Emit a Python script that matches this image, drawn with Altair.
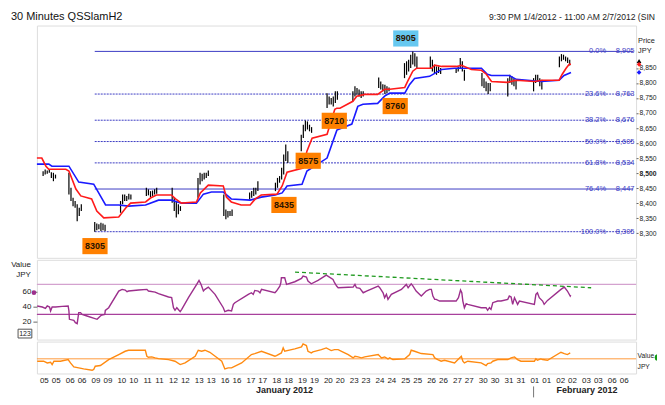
import altair as alt
import pandas as pd

FONT = "Liberation Sans"

# ---------------- x axis (trading days) ----------------
DAY_LABELS = ['05', '06', '09', '10', '11', '12', '13', '16', '17', '18', '19', '20',
              '23', '24', '25', '26', '27', '30', '31', '01', '02', '03', '06']
LABEL_OFFSETS = [0.0, 0.46]          # two session labels per day (day units)
MONTHS = ["January 2012", "February 2012"]
MONTH_POS = [9.32, 21.04]
MONTH_BREAK = [18.97]
X_DOMAIN = [-0.27, 22.94]

# ---------------- price bars (30 min), per trading day ----------------
BAR_START = -0.03
BAR_STEP = 0.08
BAR_HIGH = [
    [8506, 8512, 8509, 8512, 8503, 8501, 8495],
    [8501, 8451, 8418, 8407, 8396, 8385, 8396],
    [8337, 8332, 8330, 8335, 8332, 8328],
    [8407, 8429, 8429, 8424, 8431, 8429],
    [8451, 8446, 8440, 8442, 8446, 8451],
    [8451, 8418, 8407, 8396, 8390],
    [8484, 8501, 8498, 8501, 8501, 8509],
    [8429, 8379, 8374, 8374, 8379],
    [8435, 8440, 8451, 8451, 8473],
    [8468, 8484, 8490, 8518, 8562, 8595, 8573],
    [8628, 8661, 8675, 8672, 8661, 8653],
    [8766, 8755, 8750, 8755, 8772, 8772],
    [8772, 8789, 8783, 8778, 8772, 8772],
    [8818, 8805, 8796, 8794, 8789, 8785],
    [8866, 8872, 8877, 8894, 8905, 8899, 8888],
    [8888, 8877, 8861, 8855, 8855, 8850],
    [8850, 8855, 8883, 8872, 8844],
    [8833, 8816, 8805, 8800, 8800],
    [8816, 8827, 8822, 8816, 8811],
    [8816, 8827, 8827, 8816, 8811],
    [8888, 8896, 8894, 8888, 8885, 8877],
]
BAR_LOW = [
    [8490, 8495, 8498, 8501, 8484, 8473, 8482],
    [8429, 8407, 8390, 8385, 8340, 8357, 8374],
    [8305, 8310, 8313, 8307, 8310, 8307],
    [8368, 8396, 8407, 8407, 8412, 8412],
    [8424, 8426, 8420, 8424, 8429, 8431],
    [8401, 8374, 8352, 8363, 8374],
    [8418, 8462, 8473, 8479, 8484, 8490],
    [8357, 8346, 8352, 8357, 8357],
    [8412, 8418, 8424, 8429, 8440],
    [8440, 8451, 8468, 8479, 8495, 8540, 8534],
    [8573, 8617, 8639, 8645, 8639, 8634],
    [8717, 8728, 8728, 8722, 8733, 8744],
    [8739, 8755, 8761, 8755, 8750, 8755],
    [8783, 8778, 8772, 8763, 8766, 8772],
    [8816, 8827, 8838, 8850, 8861, 8855, 8850],
    [8850, 8838, 8833, 8827, 8833, 8830],
    [8833, 8838, 8850, 8838, 8807],
    [8789, 8783, 8772, 8763, 8772],
    [8755, 8800, 8794, 8789, 8778],
    [8772, 8800, 8805, 8789, 8778],
    [8852, 8872, 8877, 8872, 8866, 8858],
]

# ---------------- indicator lines on price ----------------
RED = [(-0.27, 8550), (-0.08, 8550), (0.08, 8523), (0.19, 8513), (0.85, 8513), (0.97, 8507),
       (1.24, 8447), (1.43, 8424), (1.85, 8414), (2.05, 8374), (2.32, 8351), (2.90, 8354),
       (3.17, 8384), (3.36, 8400), (3.94, 8404), (4.13, 8417), (4.36, 8427), (4.94, 8427),
       (5.10, 8414), (5.33, 8400), (5.91, 8404), (6.06, 8434), (6.37, 8460), (6.95, 8457),
       (7.07, 8420), (7.26, 8404), (7.64, 8394), (7.99, 8394), (8.19, 8414), (8.42, 8427),
       (9.03, 8430), (9.23, 8457), (9.42, 8503), (10.04, 8517), (10.19, 8573), (10.39, 8616),
       (10.97, 8629), (11.27, 8712), (11.35, 8716), (11.47, 8716), (11.97, 8739), (12.12, 8756),
       (12.43, 8762), (12.93, 8762), (13.20, 8779), (13.40, 8779), (13.98, 8785), (14.09, 8805),
       (14.29, 8839), (14.44, 8849), (15.02, 8849), (15.14, 8859), (15.41, 8855), (15.98, 8855),
       (16.18, 8859), (16.56, 8845), (16.95, 8842), (17.14, 8829), (17.34, 8805), (17.95, 8802),
       (18.30, 8809), (19.00, 8805), (19.31, 8809), (19.96, 8809), (20.08, 8829), (20.23, 8849),
       (20.35, 8862), (20.42, 8862)]
BLUE = [(-0.27, 8530), (0.19, 8530), (0.31, 8523), (0.97, 8523), (1.35, 8470), (1.93, 8463),
        (2.39, 8394), (2.90, 8394), (3.28, 8390), (3.94, 8394), (4.44, 8410), (4.94, 8410),
        (5.33, 8400), (5.91, 8400), (6.18, 8430), (6.49, 8437), (6.95, 8437), (7.26, 8414),
        (7.99, 8410), (8.42, 8420), (8.96, 8427), (9.23, 8434), (9.42, 8457), (10.00, 8463),
        (10.19, 8507), (10.97, 8550), (11.35, 8643), (11.93, 8663), (12.16, 8722), (12.36, 8729),
        (12.93, 8732), (13.20, 8756), (13.40, 8766), (13.98, 8766), (14.17, 8795), (14.36, 8815),
        (14.94, 8822), (15.14, 8832), (15.41, 8845), (15.91, 8849), (16.18, 8849), (16.95, 8849),
        (17.18, 8829), (17.34, 8825), (18.03, 8825), (18.30, 8812), (19.27, 8805), (19.96, 8809),
        (20.15, 8825), (20.42, 8835)]

# ---------------- Fibonacci retracement ----------------
FIB_PCT = ["0.0%", "23.6%", "38.2%", "50.0%", "61.8%", "76.4%", "100.0%"]
FIB_LEVEL = [8905, 8763, 8676, 8605, 8534, 8447, 8305]
FIB_SOLID = [1, 0, 0, 0, 0, 1, 0]
FIB_FROM, FIB_TO = 1.97, 22.83
FIB_PCT_AT, FIB_VAL_AT = 21.78, 22.88

# ---------------- swing labels ----------------
LABEL_TEXT = ["8305", "8435", "8575", "8710", "8760", "8905"]
LABEL_X = [1.98, 9.30, 10.24, 11.25, 13.61, 14.02]
LABEL_Y = [8257, 8394, 8541, 8674, 8723, 8948]
LABEL_FILL = ["#ff8000", "#ff8000", "#ff8000", "#ff8000", "#ff8000", "#66c8f0"]

LAST_VALUE = [8873, 8862, 8835]
LAST_COLOR = ["#000000", "#ff1a1a", "#1a1aff"]
LAST_SHAPE = ["triangle-up", "diamond", "diamond"]

# ---------------- RSI ----------------
RSI = [(-0.26, 41.2), (-0.06, 39.8), (0.06, 38.0), (0.13, 41.2), (0.22, 39.8), (0.26, 34.5),
       (0.32, 39.8), (0.45, 39.8), (0.71, 40.7), (0.94, 41.2), (0.97, 34.5), (0.99, 23.4),
       (1.16, 22.0), (1.22, 18.9), (1.29, 17.6), (1.35, 32.3), (1.42, 32.3), (1.48, 30.0),
       (1.67, 27.8), (2.06, 23.4), (2.12, 25.6), (2.19, 27.8), (2.25, 29.2), (2.36, 30.0),
       (2.38, 35.4), (2.51, 38.9), (2.90, 61.2), (3.03, 63.4), (3.15, 62.5), (3.22, 60.3),
       (3.28, 61.2), (3.67, 62.5), (3.99, 63.4), (4.05, 61.2), (4.31, 59.8), (4.44, 57.6),
       (4.83, 53.2), (4.95, 52.3), (5.02, 38.9), (5.08, 35.4), (5.15, 38.9), (5.28, 33.6),
       (5.34, 36.7), (5.60, 52.3), (5.92, 70.0), (6.01, 75.4), (6.09, 70.0), (6.18, 61.2),
       (6.24, 63.4), (6.37, 66.5), (6.63, 56.7), (6.95, 38.9), (7.01, 33.6), (7.14, 35.4),
       (7.27, 34.5), (7.34, 43.4), (7.40, 45.6), (7.92, 56.7), (8.04, 58.9), (8.11, 56.7),
       (8.17, 62.0), (8.30, 61.2), (8.37, 58.9), (8.43, 63.4), (8.95, 58.9), (9.01, 61.2),
       (9.14, 67.8), (9.18, 72.3), (9.20, 78.9), (9.33, 78.9), (9.40, 70.0), (9.72, 73.6),
       (9.98, 78.0), (10.04, 81.2), (10.17, 79.8), (10.23, 74.5), (10.36, 70.9), (10.62, 75.4),
       (10.94, 82.5), (11.00, 81.2), (11.20, 76.7), (11.26, 72.3), (11.34, 67.8), (11.40, 65.6),
       (11.98, 66.5), (12.05, 70.0), (12.11, 65.6), (12.24, 64.7), (12.37, 58.9), (12.50, 61.2),
       (12.95, 67.8), (13.01, 65.6), (13.14, 58.9), (13.20, 52.3), (13.27, 56.7), (13.33, 50.0),
       (13.46, 56.7), (13.85, 63.4), (14.04, 70.0), (14.11, 65.6), (14.23, 70.9), (14.30, 67.8),
       (14.42, 61.2), (14.62, 54.5), (14.81, 61.2), (14.94, 63.4), (15.01, 63.4), (15.07, 54.5),
       (15.14, 50.0), (15.20, 50.0), (15.33, 47.8), (15.97, 47.8), (16.06, 52.3), (16.14, 62.5),
       (16.19, 58.9), (16.23, 47.8), (16.29, 38.9), (16.36, 44.3), (16.42, 43.4), (16.94, 38.9),
       (17.13, 38.9), (17.19, 35.4), (17.26, 38.9), (17.32, 36.7), (17.39, 45.6), (17.58, 47.8),
       (17.71, 47.8), (17.97, 50.0), (18.03, 54.5), (18.10, 53.2), (18.16, 43.4), (18.23, 52.3),
       (18.29, 47.8), (18.35, 43.4), (18.42, 47.8), (19.00, 43.4), (19.06, 56.7), (19.12, 58.9),
       (19.19, 52.3), (19.32, 47.8), (19.38, 43.4), (19.51, 48.7), (20.03, 63.4), (20.16, 66.5),
       (20.28, 61.2), (20.39, 54.5), (20.41, 55.8)]
RSI_LEVELS = [70, 30]
RSI_LEVEL_COLOR = ["#d4a2cf", "#a8409c"]
TREND = [(9.73, 86.5), (21.2, 65.6)]
RSI_LAST = [59]

# ---------------- lower oscillator ----------------
OSC = [(-0.26, -4.9), (-0.01, -4.9), (0.13, -8.3), (0.26, -6.9), (0.32, -11.7), (0.39, -4.9),
       (0.64, -4.9), (0.94, -1.5), (1.03, -8.3), (1.16, -16.4), (1.35, -18.4), (1.54, -20.5),
       (1.87, -23.2), (1.93, -21.8), (1.99, -15.0), (2.19, -13.7), (2.51, -1.5), (2.90, 8.7),
       (3.15, 15.4), (3.28, 17.5), (3.93, 17.5), (3.99, 5.3), (4.05, 3.2), (4.18, 3.9),
       (4.31, 1.9), (4.44, 0.5), (4.83, -1.5), (5.08, -4.9), (5.28, -11.7), (5.47, -8.3),
       (5.86, 5.3), (5.98, 17.5), (6.11, 15.4), (6.24, 17.5), (6.43, 13.4), (6.89, -4.9),
       (7.01, -20.5), (7.14, -18.4), (7.27, -18.4), (7.66, -8.3), (8.04, 8.7), (8.17, 10.7),
       (8.43, 15.4), (8.95, 5.3), (9.01, 6.6), (9.20, 12.0), (9.27, 22.2), (9.33, 15.4),
       (9.72, 20.2), (9.98, 24.2), (10.04, 30.3), (10.17, 26.9), (10.23, 15.4), (10.36, 12.0),
       (10.42, 14.1), (10.75, 18.8), (10.94, 22.2), (11.13, 16.8), (11.26, 18.8), (11.40, 18.8),
       (11.53, 15.4), (11.79, 8.7), (11.98, 1.9), (12.05, 5.3), (12.17, 3.9), (12.30, 1.9),
       (12.43, 3.9), (12.95, 8.7), (13.08, 1.9), (13.20, 3.9), (13.33, -0.1), (13.40, 1.9),
       (13.52, -1.5), (13.98, -0.1), (14.17, 8.7), (14.23, 17.5), (14.36, 15.4), (14.62, 10.7),
       (15.07, 8.7), (15.14, 1.9), (15.26, -1.5), (15.39, -4.9), (15.52, -2.9), (15.91, -8.3),
       (16.10, 1.9), (16.17, 5.3), (16.23, -4.9), (16.29, -8.3), (16.42, -4.9), (16.94, -8.3),
       (17.13, -13.7), (17.19, -9.6), (17.32, -8.3), (17.39, -4.9), (17.58, -1.5), (17.97, -1.5),
       (18.10, 1.9), (18.23, 3.9), (18.35, -1.5), (18.48, -4.9), (19.00, -4.9), (19.06, -0.1),
       (19.12, -2.9), (19.25, -0.1), (19.32, -1.5), (19.51, -2.9), (20.03, 13.4), (20.16, 10.7),
       (20.28, 8.7), (20.39, 12.0)]
OSC_LEVEL = [0]

# ================= build tables =================
bars = []
for d, (hs, ls) in enumerate(zip(BAR_HIGH, BAR_LOW)):
    for k, (h, l) in enumerate(zip(hs, ls)):
        bars.append({"x": d + BAR_START + k * BAR_STEP, "hi": h, "lo": l})
bars_df = pd.DataFrame(bars)
red_df = pd.DataFrame(RED, columns=["x", "v"])
blue_df = pd.DataFrame(BLUE, columns=["x", "v"])
fib_df = pd.DataFrame({"pct": FIB_PCT, "level": FIB_LEVEL, "solid": FIB_SOLID,
                       "val": [f"{v:,}" for v in FIB_LEVEL]})
fib_df["x1"] = FIB_FROM
fib_df["x2"] = FIB_TO
fib_df["xp"] = FIB_PCT_AT
fib_df["xv"] = FIB_VAL_AT
lab_df = pd.DataFrame({"t": LABEL_TEXT, "x": LABEL_X, "v": LABEL_Y, "fill": LABEL_FILL})
last_df = pd.DataFrame({"v": LAST_VALUE, "c": LAST_COLOR, "s": LAST_SHAPE})
rsi_df = pd.DataFrame(RSI, columns=["x", "v"])
trend_df = pd.DataFrame(TREND, columns=["x", "v"])
rlev_df = pd.DataFrame({"v": RSI_LEVELS, "c": RSI_LEVEL_COLOR})
osc_df = pd.DataFrame(OSC, columns=["x", "v"])
ticks = [d + o for d in range(len(DAY_LABELS)) for o in LABEL_OFFSETS]
month_df = pd.DataFrame({"t": MONTHS, "x": MONTH_POS})
brk_df = pd.DataFrame({"x": MONTH_BREAK})
ONE = pd.DataFrame({"a": [0]})

W = 601
XS = alt.Scale(domain=X_DOMAIN, nice=False, zero=False)
TXT = "#222222"
FIBC = "#3c3cc4"


def X(field, axis=None):
    return alt.X(field, type="quantitative", scale=XS, axis=axis, title=None)


def note(text, x, y, **kw):
    kw.setdefault("fontSize", 8)
    kw.setdefault("color", TXT)
    return alt.Chart(ONE).mark_text(text=text, font=FONT, **kw).encode(
        x=alt.value(x), y=alt.value(y))


# ---------------- price panel ----------------
P_AXIS = alt.Axis(orient="right", values=list(range(8300, 8851, 50)), format=",d",
                  tickSize=2, tickColor="#666666", labelPadding=1, labelColor=TXT,
                  labelFont=FONT, labelFontSize=6.8,
                  labelFontWeight={"condition": {"test": "datum.value == 8500", "value": "bold"},
                                   "value": "normal"},
                  domain=False, grid=False, title=None)
PS = alt.Scale(domain=[8218, 8991], nice=False, zero=False)


def PY(field):
    return alt.Y(field, type="quantitative", scale=PS, axis=P_AXIS, title=None)


fib_solid = alt.Chart(fib_df).transform_filter("datum.solid == 1").mark_rule(
    color=FIBC, strokeWidth=1).encode(x=X("x1"), x2="x2:Q", y=PY("level"))
fib_dot = alt.Chart(fib_df).transform_filter("datum.solid == 0").mark_rule(
    color=FIBC, strokeWidth=1, strokeDash=[2, 1]).encode(x=X("x1"), x2="x2:Q", y=PY("level"))
fib_pct = alt.Chart(fib_df).mark_text(align="right", baseline="middle", fontSize=7.5,
                                      color=FIBC, font=FONT).encode(
    x=X("xp"), y=PY("level"), text="pct:N")
fib_val = alt.Chart(fib_df).mark_text(align="right", baseline="middle", fontSize=7.5,
                                      color=FIBC, font=FONT).encode(
    x=X("xv"), y=PY("level"), text="val:N")
bar_layer = alt.Chart(bars_df).mark_rule(color="#000000", strokeWidth=1.2).encode(
    x=X("x"), y=PY("hi"), y2="lo:Q")
blue_line = alt.Chart(blue_df).mark_line(color="#1a1aff", strokeWidth=1.6).encode(
    x=X("x"), y=PY("v"))
red_line = alt.Chart(red_df).mark_line(color="#ff1a1a", strokeWidth=1.6).encode(
    x=X("x"), y=PY("v"))
RECT = "M-1,-0.64L1,-0.64L1,0.64L-1,0.64Z"
boxes = alt.Chart(lab_df).mark_point(shape=RECT, filled=True, size=640, opacity=1).encode(
    x=X("x"), y=PY("v"), color=alt.Color("fill:N", scale=None))
box_txt = alt.Chart(lab_df).mark_text(fontSize=9, fontWeight="bold", color="#2a1400",
                                      font=FONT, baseline="middle").encode(
    x=X("x"), y=PY("v"), text="t:N")
last_marks = alt.Chart(last_df).mark_point(filled=True, size=22, opacity=1).encode(
    x=alt.value(W + 3), y=PY("v"), color=alt.Color("c:N", scale=None),
    shape=alt.Shape("s:N", scale=None))
# invisible anchors fixing the drawing's outer bounds (top-left corner and right edge)
anchor = alt.Chart(ONE).mark_rule(strokeOpacity=0).encode(
    x=alt.value(-28), x2=alt.value(-28), y=alt.value(-16), y2=alt.value(-16))
anchor_r = alt.Chart(ONE).mark_rule(strokeOpacity=0).encode(
    x=alt.value(W + 40), x2=alt.value(W + 40), y=alt.value(0), y2=alt.value(0))

price = alt.layer(
    fib_solid, fib_dot, fib_pct, fib_val, bar_layer, blue_line, red_line, boxes, box_txt,
    last_marks, anchor, anchor_r,
    note("30 Minutes QSSlamH2", -26, -6, fontSize=11, align="left", baseline="alphabetic",
         color="#111111"),
    note("9:30 PM 1/4/2012 - 11:00 AM 2/7/2012 (SIN", W + 19, -6, fontSize=8.6,
         align="right", baseline="alphabetic"),
    note("Price", W + 2, 16, fontSize=7.4, align="left", baseline="middle"),
    note("JPY", W + 2, 26, fontSize=7.4, align="left", baseline="middle"),
).properties(width=W, height=233)

# ---------------- RSI panel ----------------
R_AXIS = alt.Axis(orient="left", values=[20, 40, 60], tickSize=4, tickColor="#666666",
                  labelPadding=2, labelFontSize=8, labelColor=TXT, labelFont=FONT,
                  domain=False, grid=False, title=None)
RS = alt.Scale(domain=[-3.7, 102.9], nice=False, zero=False)


def RY(field):
    return alt.Y(field, type="quantitative", scale=RS, axis=R_AXIS, title=None)


rlev = alt.Chart(rlev_df).mark_rule(strokeWidth=1.3).encode(
    y=RY("v"), color=alt.Color("c:N", scale=None))
rsi_line = alt.Chart(rsi_df).mark_line(color="#9c2f8c", strokeWidth=1.4).encode(
    x=X("x"), y=RY("v"))
trend = alt.Chart(trend_df).mark_line(color="#1f9a1f", strokeWidth=1.3,
                                      strokeDash=[4, 3]).encode(x=X("x"), y=RY("v"))
rsi_dot = alt.Chart(pd.DataFrame({"v": RSI_LAST})).mark_point(
    filled=True, size=22, color="#9c2f8c", opacity=1).encode(x=alt.value(-3), y=RY("v"))
box123 = alt.Chart(ONE).mark_point(shape=RECT, filled=False, size=190, color="#555555",
                                   strokeWidth=1, opacity=1).encode(
    x=alt.value(-12), y=alt.value(74))

rsi = alt.layer(
    rlev, rsi_line, trend, rsi_dot, box123,
    note("Value", -6, 5, align="right", baseline="middle"),
    note("JPY", -6, 15, align="right", baseline="middle"),
    note("123", -12, 74.5, fontSize=7, align="center", baseline="middle"),
).properties(width=W, height=80)

# ---------------- oscillator panel ----------------
X_AXIS = alt.Axis(values=ticks,
                  labelExpr="[" + ",".join(f"'{d}'" for d in DAY_LABELS) + "][floor(datum.value + 0.01)]",
                  ticks=False, labelPadding=3, labelFontSize=8, labelColor=TXT, labelFont=FONT,
                  labelOverlap=False, labelFlush=False, domain=False, grid=False, title=None)
OS = alt.Scale(domain=[-29.8, 35.1], nice=False, zero=False)


def OY(field):
    return alt.Y(field, type="quantitative", scale=OS, axis=None, title=None)


olev = alt.Chart(pd.DataFrame({"v": OSC_LEVEL})).mark_rule(
    color="#ff9a3c", strokeWidth=1).encode(y=OY("v"))
osc_line = alt.Chart(osc_df).mark_line(color="#ff8a10", strokeWidth=1.4).encode(
    x=X("x", X_AXIS), y=OY("v"))
months = alt.Chart(month_df).mark_text(fontSize=9, fontWeight="bold", color="#222222",
                                       font=FONT, baseline="middle").encode(
    x=X("x", X_AXIS), y=alt.value(49), text="t:N")
brk = alt.Chart(brk_df).mark_rule(color="#777777", strokeWidth=1).encode(
    x=X("x", X_AXIS), y=alt.value(45), y2=alt.value(56))
gdot = alt.Chart(ONE).mark_point(filled=True, size=45, color="#129a12", opacity=1,
                                 strokeWidth=0).encode(
    x=alt.value(W + 22), y=alt.value(16))

osc = alt.layer(
    olev, osc_line, months, brk, gdot,
    note("Value", W + 1.5, 14, fontSize=6.7, align="left", baseline="middle"),
    note("JPY", W + 1.5, 26, fontSize=6.7, align="left", baseline="middle"),
).properties(width=W, height=32)

# drawing spans 28 + W + 40 px; trim the right side to 28 + W + 20 = 649 px,
# the width the page can show without shrinking the chart
chart = alt.vconcat(price, rsi, osc, spacing=0, bounds="full",
                    padding={"left": 0, "top": 0, "right": -20, "bottom": 0}).configure_view(
    stroke="#c4c4d4", strokeWidth=1).configure(background="white")

chart.save("out.html", embed_options={"renderer": "svg", "actions": False})
